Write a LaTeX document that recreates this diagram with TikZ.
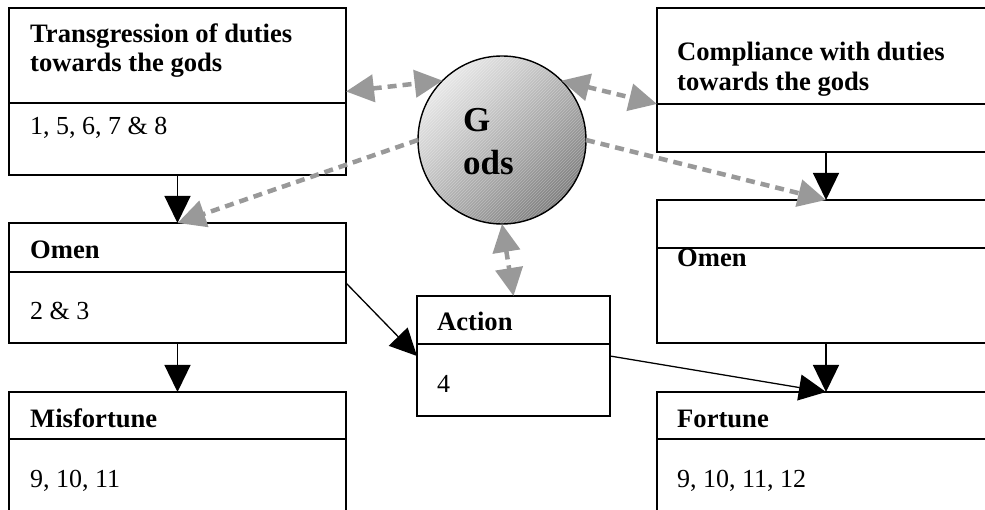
\documentclass[tikz,border=0pt]{standalone}
\usepackage{fontspec}
\setmainfont{Liberation Serif}
\usetikzlibrary{arrows.meta,patterns}
\definecolor{linkgray}{HTML}{999999}
\tikzset{
  box/.style={draw, line width=1.6pt, rectangle, anchor=north west,
              inner sep=0pt, outer sep=0pt},
  rule/.style={line width=1.6pt},
  % multi-line labels are placed by the baseline of their last line
  head/.style={anchor=base west, inner sep=0pt, align=left,
               font=\bfseries\fontsize{26.6}{29}\selectfont},
  body/.style={anchor=base west, inner sep=0pt,
               font=\fontsize{26}{29}\selectfont},
  flow/.style={line width=1.3pt, -{Triangle[length=27pt,width=26pt]}},
  link/.style={draw=linkgray, line width=4.5pt, dash pattern=on 9pt off 6pt},
  bilink/.style={link, {Triangle[length=28pt,width=27pt]}-{Triangle[length=28pt,width=27pt]}},
  unilink/.style={link, -{Triangle[length=28pt,width=27pt]}},
}
\begin{document}
\begin{tikzpicture}[x=1pt,y=-1pt]
\useasboundingbox (0,0) rectangle (985,510);
\clip (0,0) rectangle (985,510);

% left column
\node[box, minimum width=337pt, minimum height=167pt] (tl) at (9,8) {};
\draw[rule] (tl.west |- 0,103) -- (tl.east |- 0,103);
\node[head] (tlhead) at (30,72) {Transgression of duties\\towards the gods};
\node[body] (tlbody) at (30,135) {1, 5, 6, 7 \& 8};

\node[box, minimum width=337pt, minimum height=120pt] (omenL) at (9,223) {};
\draw[rule] (omenL.west |- 0,272) -- (omenL.east |- 0,272);
\node[head] (omenLhead) at (30,259) {Omen};
\node[body] (omenLbody) at (30,320) {2 \& 3};

\node[box, minimum width=337pt, minimum height=150pt] (misf) at (9,392) {};
\draw[rule] (misf.west |- 0,439) -- (misf.east |- 0,439);
\node[head] (misfhead) at (30,427) {Misfortune};
\node[body] (misfbody) at (30,487) {9, 10, 11};

% right column
\node[box, minimum width=338pt, minimum height=144pt] (tr) at (657,8) {};
\coordinate (trsplit) at (tr.west |- 0,104);
\draw[rule] (trsplit) -- (tr.east |- 0,104);
\node[head, font=\bfseries\fontsize{26.6}{30}\selectfont] (trhead) at (677,91)
  {Compliance with duties\\towards the gods};

\node[box, minimum width=338pt, minimum height=143pt] (omenR) at (657,200) {};
\draw[rule] (omenR.west |- 0,248) -- (omenR.east |- 0,248);
\node[head] (omenRhead) at (677,267) {Omen};

\node[box, minimum width=338pt, minimum height=150pt] (fort) at (657,392) {};
\draw[rule] (fort.west |- 0,439) -- (fort.east |- 0,439);
\node[head] (forthead) at (677,427) {Fortune};
\node[body] (fortbody) at (677,487) {9, 10, 11, 12};

% centre
\node[box, minimum width=193pt, minimum height=120pt] (action) at (417,296) {};
\draw[rule] (action.west |- 0,344) -- (action.east |- 0,344);
\node[head] (actionhead) at (437,331) {Action};
\node[body] (actionbody) at (437,392) {4};

\node[circle, draw, line width=1.4pt, minimum size=168pt, inner sep=0pt,
      outer sep=0pt, shading=axis, top color=black!9, bottom color=black!50,
      shading angle=45] (gods) at (502,140) {};
\fill[pattern=north east lines, pattern color=white, opacity=0.3]
  (gods.center) circle[radius=83pt];
\node[anchor=base west, inner sep=0pt, align=left,
      font=\bfseries\fontsize{35}{43}\selectfont] (godsname) at (463,175) {G\\ods};

% causal flow
\draw[flow] (tl.south) -- (omenL.north);
\draw[flow] (omenL.south) -- (misf.north);
\draw[flow] (tr.south) -- (omenR.north);
\draw[flow] (omenR.south) -- (fort.north);
\draw[flow] (omenL.east) -- (action.west);
\draw[flow] (action.east) -- (fort.north);

% divine influence
\draw[bilink] (tl.east) -- (gods.135);
\draw[bilink] (gods.45) -- (trsplit);
\draw[unilink] (gods.west) -- (omenL.north);
\draw[unilink] (gods.east) -- (omenR.north);
\draw[bilink] (gods.south) -- (action.north);
\end{tikzpicture}
\end{document}
